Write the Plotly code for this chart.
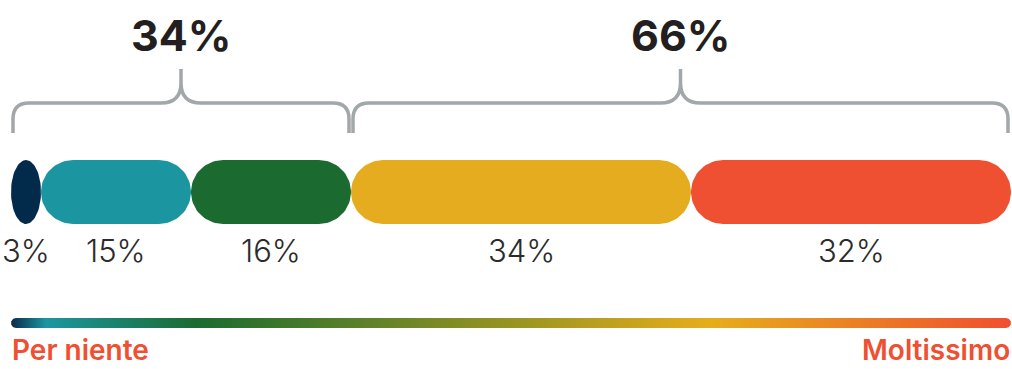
import numpy as np
import plotly.graph_objects as go

# Survey answer shares, from "Per niente" to "Moltissimo"
shares = [3, 15, 16, 34, 32]
share_labels = ["3%", "15%", "16%", "34%", "32%"]
colors = ["#022b4b", "#1b96a0", "#1b6b30", "#e4ac1e", "#ef5031"]

# Grouped totals shown above the braces
groups = [(0, 3), (3, 5)]          # segment index ranges (start, end)
group_labels = ["34%", "66%"]

scale_labels = ["Per niente", "Moltissimo"]

W, H = 1012, 369
PX = 10.0                          # pixels per percentage point on the x axis

fig = go.Figure()


def pill(x0, x1, yc, half_h, r_px):
    """Polygon for a rounded capsule between x0 and x1 (axis units)."""
    rx = min(r_px / PX, (x1 - x0) / 2)
    ry = half_h
    t_r = np.linspace(-np.pi / 2, np.pi / 2, 40)
    t_l = np.linspace(np.pi / 2, 3 * np.pi / 2, 40)
    xs = np.concatenate([x1 - rx + rx * np.cos(t_r), x0 + rx + rx * np.cos(t_l)])
    ys = np.concatenate([yc + ry * np.sin(t_r), yc + ry * np.sin(t_l)])
    return np.append(xs, xs[0]), np.append(ys, ys[0])


# Stacked capsules
edges = np.concatenate([[0], np.cumsum(shares)])
for i, (v, lab, c) in enumerate(zip(shares, share_labels, colors)):
    xs, ys = pill(edges[i], edges[i + 1], 192, 32, 32)
    fig.add_trace(go.Scatter(x=xs, y=ys, fill="toself", fillcolor=c,
                             mode="lines", line=dict(width=0, color=c),
                             hoverinfo="skip", showlegend=False))
    fig.add_annotation(x=(edges[i] + edges[i + 1]) / 2, y=250, text=lab,
                       showarrow=False, xanchor="center", yanchor="middle",
                       font=dict(family="Inter", size=31, color="#2b2b2b",
                                 weight=300))

# Braces with group totals
def brace_path(xa, xb, y_base=133, y_bar=103, y_tip=69, r_end=16, r_mid=20):
    re_ = r_end / PX
    rm = r_mid / PX
    xm = (xa + xb) / 2
    return (f"M {xa},{y_base} L {xa},{y_bar + r_end} "
            f"Q {xa},{y_bar} {xa + re_},{y_bar} "
            f"L {xm - rm},{y_bar} Q {xm},{y_bar} {xm},{y_bar - r_mid} "
            f"L {xm},{y_tip} "
            f"M {xm},{y_bar - r_mid} Q {xm},{y_bar} {xm + rm},{y_bar} "
            f"L {xb - re_},{y_bar} Q {xb},{y_bar} {xb},{y_bar + r_end} "
            f"L {xb},{y_base}")


inset = 0.2
for (s, e), lab in zip(groups, group_labels):
    xa = edges[s] + inset
    xb = edges[e] - (inset if e < len(shares) else 0.3)
    fig.add_shape(type="path", path=brace_path(xa, xb), xref="x", yref="y",
                  line=dict(color="#a2a7aa", width=3.5))
    fig.add_annotation(x=(xa + xb) / 2, y=35, text=f"<b>{lab}</b>",
                       showarrow=False, xanchor="center", yanchor="middle",
                       font=dict(family="Inter", size=43, color="#231f20"))

# Gradient scale bar
gx, gy = pill(0, 100, 323, 5, 5)
fig.add_trace(go.Scatter(
    x=gx, y=gy, fill="toself", mode="lines", line=dict(width=0),
    fillgradient=dict(type="horizontal", colorscale=[
        [0.0, "#0b2a4a"], [0.035, "#1b96a0"], [0.185, "#1b6b30"],
        [0.70, "#e6ad1b"], [1.0, "#ef4f30"]]),
    hoverinfo="skip", showlegend=False))

for x, lab, anchor in [(0, scale_labels[0], "left"), (100, scale_labels[1], "right")]:
    fig.add_annotation(x=x, y=350, text=lab, showarrow=False,
                       xanchor=anchor, yanchor="middle", borderpad=0,
                       font=dict(family="Inter", size=28, color="#ef5031",
                                 weight=600))

fig.update_layout(
    width=W, height=H, autosize=False,
    margin=dict(l=0, r=0, t=0, b=0),
    paper_bgcolor="white", plot_bgcolor="white",
    xaxis=dict(range=[-11 / PX, (W - 11) / PX], visible=False, fixedrange=True),
    yaxis=dict(range=[H, 0], visible=False, fixedrange=True),
    showlegend=False,
)

fig.write_html("out.html")
